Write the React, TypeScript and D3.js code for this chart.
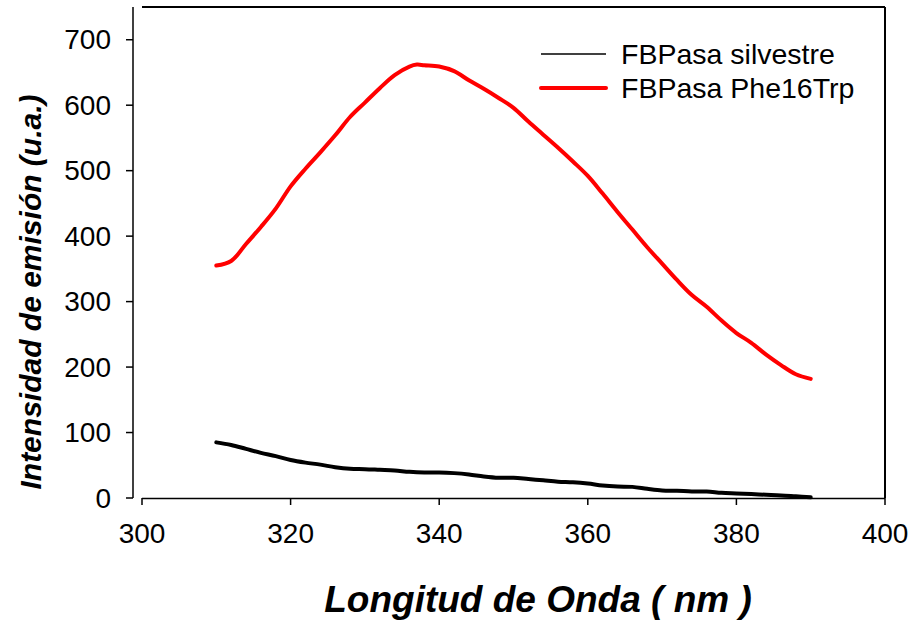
import React from "react";
import * as d3 from "d3";

const wavelengths = [310,312,314,316,318,320,322,324,326,328,330,332,334,336,337,338,340,342,344,346,348,350,352,354,356,358,360,362,364,366,368,370,372,374,376,378,380,382,384,386,388,390];
const phe16trp = [355,362,388,414,442,476,503,528,554,582,604,626,646,659,662,661,659,652,638,625,611,596,575,555,535,514,492,465,437,410,383,358,333,310,292,271,252,237,219,203,189,182];
const wavelengthsWT = [310,312,314,316,318,320,322,324,326,328,330,332,334,336,338,340,342,344,346,348,350,352,354,356,358,360,362,364,366,368,370,372,374,376,378,380,382,384,386,388,390];
const silvestre = [85,81,75,69,64,58,54,51,47,44.5,44,43,42,40,39,39,38,36,33,31,31,29,27,25,24,22,19,17.5,17,14,11.5,11,10,10,8,7,6,5,4,2.5,1];
const xTicks = [300,320,340,360,380,400];
const yTicks = [0,100,200,300,400,500,600,700];
const seriesNames = ["FBPasa silvestre", "FBPasa Phe16Trp"];

const FONT = "'Liberation Sans', Arial, sans-serif";

export default function App() {
  const left = 142, right = 885, top = 7, bottom = 498;
  const x = d3.scaleLinear().domain([300, 400]).range([left, right]);
  const y = d3.scaleLinear().domain([0, 750]).range([bottom, top]);
  const line = d3.line<[number, number]>()
    .x(d => x(d[0]))
    .y(d => y(d[1]))
    .curve(d3.curveCatmullRom.alpha(0.5));
  const redPts = wavelengths.map((w, i) => [w, phe16trp[i]] as [number, number]);
  const blackPts = wavelengthsWT.map((w, i) => [w, silvestre[i]] as [number, number]);
  const yAxisX = 133;

  return (
    <svg width={911} height={623} style={{ position: "absolute", left: 0, top: 0, background: "#fff" }} fontFamily={FONT}>
      <line x1={left} x2={right} y1={top} y2={top} stroke="#000" strokeWidth={2} />
      <line x1={right} x2={right} y1={top} y2={bottom} stroke="#000" strokeWidth={2} />
      <line x1={yAxisX} x2={yAxisX} y1={top} y2={y(0)} stroke="#000" strokeWidth={1.5} />
      {yTicks.map(t => (
        <g key={"y" + t}>
          <line x1={yAxisX - 7} x2={yAxisX} y1={y(t)} y2={y(t)} stroke="#000" strokeWidth={1.5} />
          <text x={111} y={y(t)} textAnchor="end" dominantBaseline="central" fontSize={28} fill="#000">{t}</text>
        </g>
      ))}
      <line x1={left} x2={right} y1={bottom + 0.5} y2={bottom + 0.5} stroke="#000" strokeWidth={1.5} />
      {xTicks.map(t => (
        <g key={"x" + t}>
          <line x1={x(t)} x2={x(t)} y1={bottom} y2={bottom + 7} stroke="#000" strokeWidth={1.5} />
          <text x={x(t)} y={543} textAnchor="middle" fontSize={28} fill="#000">{t}</text>
        </g>
      ))}
      <path d={line(blackPts) || ""} fill="none" stroke="#000" strokeWidth={4} strokeLinecap="round" strokeLinejoin="round" />
      <path d={line(redPts) || ""} fill="none" stroke="#ff0000" strokeWidth={4} strokeLinecap="round" strokeLinejoin="round" />
      <line x1={541} x2={606} y1={54} y2={54} stroke="#000" strokeWidth={1.5} />
      <text x={621} y={54} dominantBaseline="central" fontSize={28.5} fill="#000">{seriesNames[0]}</text>
      <line x1={541} x2={606} y1={88} y2={88} stroke="#ff0000" strokeWidth={4} strokeLinecap="round" />
      <text x={621} y={88} dominantBaseline="central" fontSize={28.5} fill="#000">{seriesNames[1]}</text>
      <text x={538} y={612} textAnchor="middle" fontSize={37} fontWeight="bold" fontStyle="italic" fill="#000">Longitud de Onda ( nm )</text>
      <text transform={`translate(41, 292) rotate(-90)`} textAnchor="middle" fontSize={30} fontWeight="bold" fontStyle="italic" fill="#000">Intensidad de emisión (u.a.)</text>
    </svg>
  );
}
